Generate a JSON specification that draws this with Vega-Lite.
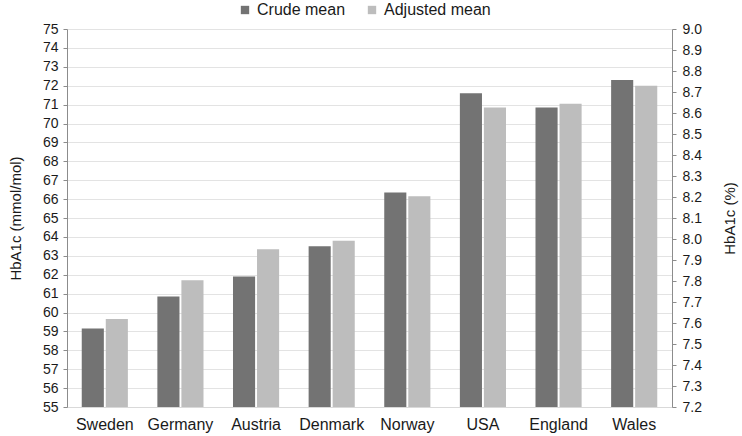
{
  "$schema": "https://vega.github.io/schema/vega-lite/v6.json",
  "autosize": {"type": "none"},
  "width": 605,
  "height": 378,
  "padding": {"left": 67, "top": 29, "right": 70, "bottom": 29},
  "background": "white",
  "config": {
    "font": "Liberation Sans",
    "view": {"stroke": null},
    "axis": {"labelFont": "Liberation Sans", "titleFont": "Liberation Sans", "labelColor": "#1a1a1a", "titleColor": "#1a1a1a", "titleFontWeight": "normal"}
  },
  "data": {
    "values": [
      {"country": "Sweden", "series": "Crude mean", "value": 59.15},
      {"country": "Sweden", "series": "Adjusted mean", "value": 59.65},
      {"country": "Germany", "series": "Crude mean", "value": 60.85},
      {"country": "Germany", "series": "Adjusted mean", "value": 61.7},
      {"country": "Austria", "series": "Crude mean", "value": 61.9},
      {"country": "Austria", "series": "Adjusted mean", "value": 63.35},
      {"country": "Denmark", "series": "Crude mean", "value": 63.5},
      {"country": "Denmark", "series": "Adjusted mean", "value": 63.8},
      {"country": "Norway", "series": "Crude mean", "value": 66.35},
      {"country": "Norway", "series": "Adjusted mean", "value": 66.15},
      {"country": "USA", "series": "Crude mean", "value": 71.6},
      {"country": "USA", "series": "Adjusted mean", "value": 70.85},
      {"country": "England", "series": "Crude mean", "value": 70.85},
      {"country": "England", "series": "Adjusted mean", "value": 71.05},
      {"country": "Wales", "series": "Crude mean", "value": 72.3},
      {"country": "Wales", "series": "Adjusted mean", "value": 72.0}
    ]
  },
  "encoding": {
    "x": {
      "field": "country", "type": "nominal",
      "sort": ["Sweden", "Germany", "Austria", "Denmark", "Norway", "USA", "England", "Wales"],
      "scale": {"paddingInner": 0.39, "paddingOuter": 0.195},
      "axis": {"title": null, "labelAngle": 0, "labelFontSize": 16, "labelPadding": 9, "ticks": false, "domain": true, "domainColor": "#d9d9d9", "grid": false}
    }
  },
  "layer": [
    {
      "mark": {"type": "bar", "clip": true},
      "encoding": {
        "xOffset": {"field": "series", "type": "nominal", "sort": ["Crude mean", "Adjusted mean"], "scale": {"paddingInner": 0.08}},
        "y": {
          "field": "value", "type": "quantitative",
          "scale": {"domain": [55, 75], "nice": false, "zero": false},
          "axis": {
            "title": "HbA1c (mmol/mol)", "titleFontSize": 15, "titlePadding": 19,
            "values": [55,56,57,58,59,60,61,62,63,64,65,66,67,68,69,70,71,72,73,74,75],
            "labelFontSize": 14, "labelPadding": 5,
            "domainColor": "#8c8c8c", "tickColor": "#8c8c8c", "tickSize": 4,
            "grid": true, "gridColor": "#e3e3e3"
          }
        },
        "color": {
          "field": "series", "type": "nominal",
          "sort": ["Crude mean", "Adjusted mean"],
          "scale": {"domain": ["Crude mean", "Adjusted mean"], "range": ["#737373", "#bdbdbd"]},
          "legend": {
            "title": null, "orient": "none", "direction": "horizontal",
            "legendX": 170, "legendY": -27,
            "symbolType": "square", "symbolSize": 70, "symbolStrokeWidth": 0,
            "labelFontSize": 16, "labelColor": "#1a1a1a", "columnPadding": 18, "labelOffset": 4
          }
        }
      }
    },
    {
      "mark": {"type": "tick", "opacity": 0, "clip": true},
      "encoding": {
        "y": {
          "field": "value", "type": "quantitative",
          "scale": {"domain": [7.2, 9.0], "nice": false, "zero": false},
          "axis": {
            "orient": "right", "title": "HbA1c (%)", "titleFontSize": 15, "titlePadding": 36, "titleAngle": 270,
            "values": [7.2,7.3,7.4,7.5,7.6,7.7,7.8,7.9,8.0,8.1,8.2,8.3,8.4,8.5,8.6,8.7,8.8,8.9,9.0],
            "format": ".1f", "labelFontSize": 14, "labelPadding": 6,
            "domainColor": "#8c8c8c", "tickColor": "#8c8c8c", "tickSize": 4,
            "grid": false
          }
        }
      }
    }
  ],
  "resolve": {"scale": {"y": "independent"}}
}
